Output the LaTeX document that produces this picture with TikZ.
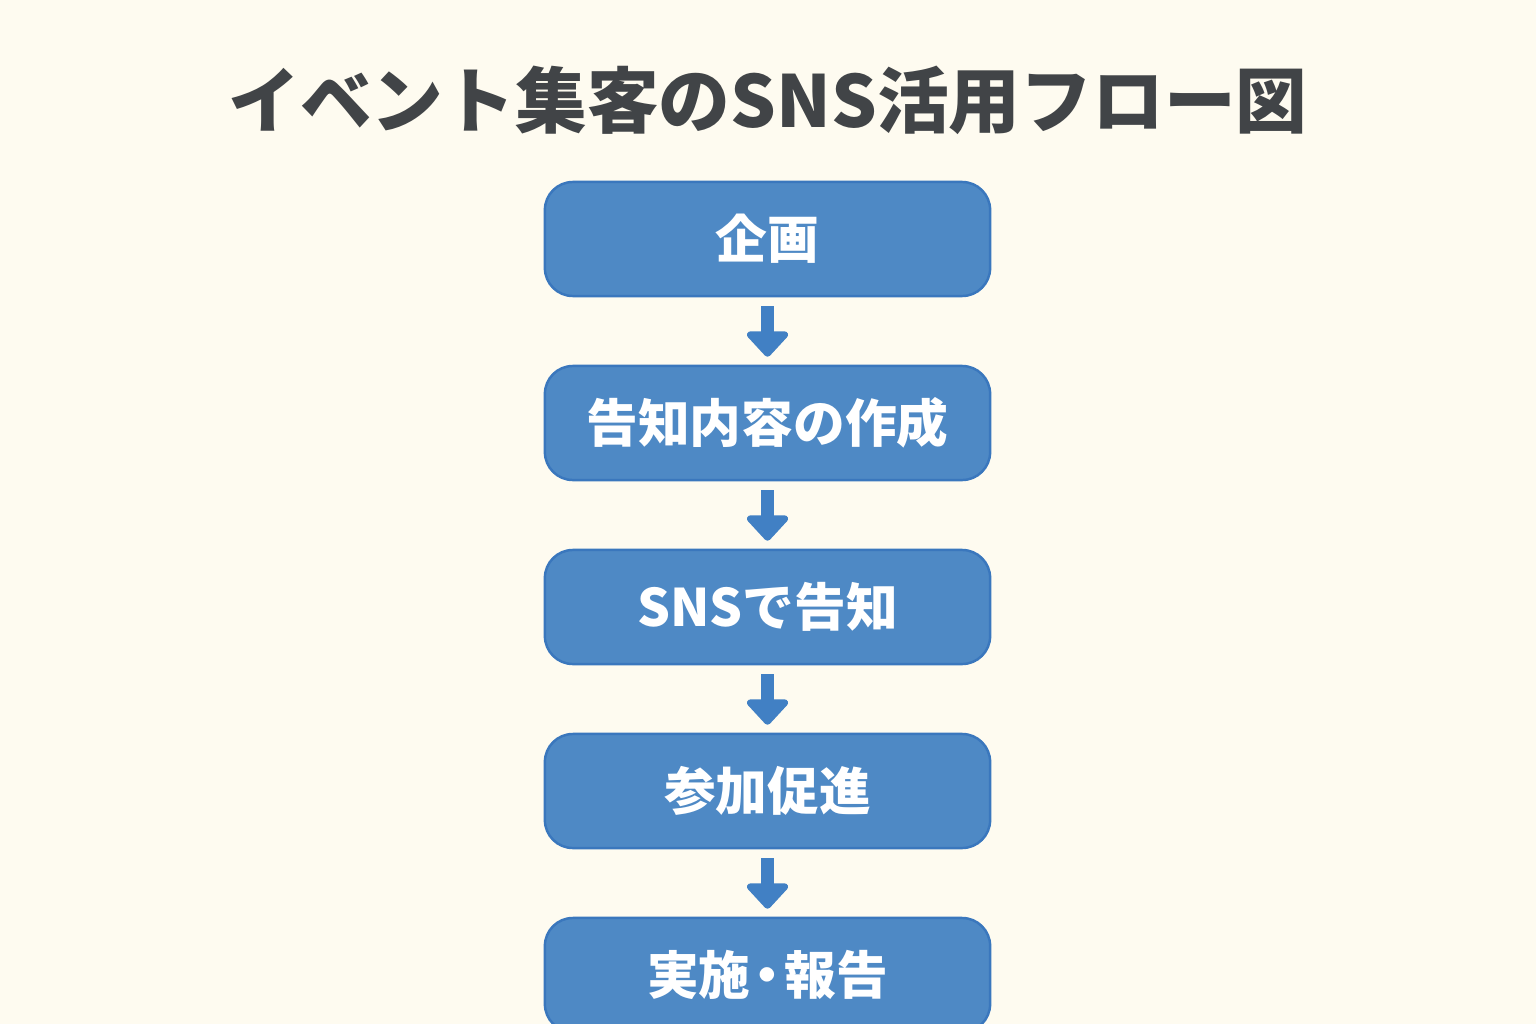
\documentclass[tikz,border=0pt]{standalone}
\usepackage{fontspec}
\setmainfont{Noto Sans CJK JP}
\usetikzlibrary{arrows.meta}
\definecolor{bgc}{HTML}{FEFBF0}
\definecolor{boxfill}{HTML}{4E89C5}
\definecolor{boxline}{HTML}{3A77BD}
\definecolor{arrowc}{HTML}{4180C4}
\definecolor{titlec}{HTML}{414447}
\tikzset{
  stepbox/.style={draw=boxline, line width=0.7pt, fill=boxfill, rounded corners=0.28cm,
    minimum width=4.45cm, minimum height=1.14cm, inner sep=0pt,
    text=white, font=\fontsize{14.7pt}{18pt}\selectfont\bfseries},
  flowarrow/.style={draw=arrowc, line width=0.125cm,
    -{Triangle[width=0.48cm,length=0.27cm,round]},
    shorten <=0.09cm, shorten >=0.08cm}
}
\begin{document}
\begin{tikzpicture}[x=0.01cm,y=-0.01cm]
\useasboundingbox[fill=bgc] (0,0) rectangle (1536,1024);
\node[text=titlec, font=\fontsize{20.4pt}{24pt}\selectfont\bfseries] (title) at (768,100) {イベント集客のSNS活用フロー図};
\node[stepbox] (s1) at (767.5,239) {企画};
\node[stepbox] (s2) at (767.5,423) {告知内容の作成};
\node[stepbox] (s3) at (767.5,607) {SNSで告知};
\node[stepbox] (s4) at (767.5,791) {参加促進};
\node[stepbox] (s5) at (767.5,975) {実施\kern-0.17em・\kern-0.17em報告};
\draw[flowarrow] (s1) -- (s2);
\draw[flowarrow] (s2) -- (s3);
\draw[flowarrow] (s3) -- (s4);
\draw[flowarrow] (s4) -- (s5);
\end{tikzpicture}
\end{document}
